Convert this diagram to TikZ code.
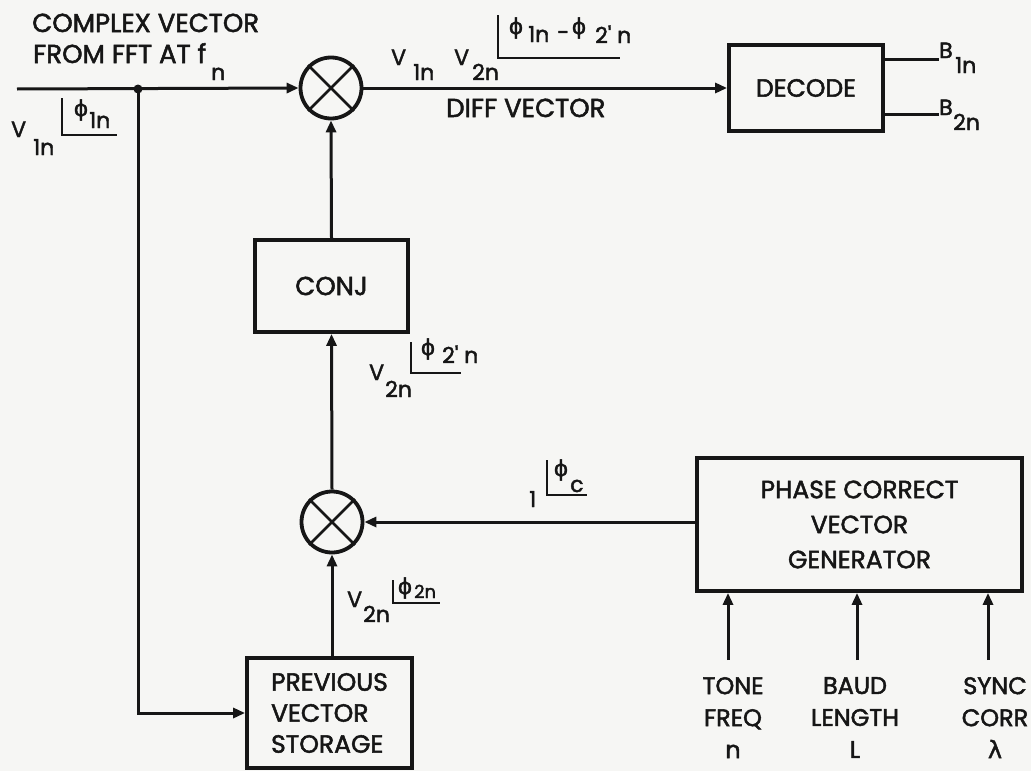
\documentclass[tikz,border=0pt]{standalone}
\usepackage{fontspec}
\newfontfamily\pop{Poppins}[FakeBold=2]
\newfontfamily\dvs{DejaVu Sans}[FakeBold=1.5]
\usetikzlibrary{arrows.meta}
\definecolor{ink}{RGB}{22,22,22}
\definecolor{paper}{RGB}{246,246,244}
\tikzset{
  box/.style={draw=ink,line width=3.8pt,minimum width=#1,inner sep=0pt},
  mult/.style={draw=ink,circle,line width=3.8pt,minimum size=61pt,inner sep=0pt},
  conn/.style={draw=ink,line width=3pt},
  arr/.style={conn,-{Triangle[length=12pt,width=10pt]}},
  big/.style={font=\pop\fontsize{25}{35}\selectfont,text=ink,inner sep=0pt},
  sml/.style={font=\pop\fontsize{22}{24}\selectfont,text=ink,inner sep=0pt,anchor=base west},
  phi/.style={font=\dvs\fontsize{22}{25}\selectfont,text=ink,inner sep=0pt},
  ang/.style={draw=ink,line width=2.6pt},
  lbl/.style={big,anchor=base west,font=\pop\fontsize{26}{30}\selectfont}
}
\begin{document}
\begin{tikzpicture}[x=1pt,y=-1pt]
\fill[paper] (0,0) rectangle (1031,771);
\useasboundingbox (0,0) rectangle (1031,771);

% blocks
\node[mult] (m1) at (331,88) {};
\node[mult] (m2) at (332,522) {};
\foreach \m in {m1,m2}{
  \draw[ink,line width=2.8pt] (\m.north east) -- (\m.south west);
  \draw[ink,line width=2.8pt] (\m.north west) -- (\m.south east);
}
\node[box=154pt,minimum height=86pt,big] (dec) at (806,88) {DECODE};
\node[box=153pt,minimum height=92pt,big,font=\pop\fontsize{26}{30}\selectfont] (conj) at (331.5,286) {CONJ};
\node[box=325pt,minimum height=133pt,big,align=center] (pc) at (859.5,524.5) {PHASE CORRECT\\VECTOR\\GENERATOR};
\node[box=165pt,minimum height=110pt,big,align=left,font=\pop\fontsize{25}{31}\selectfont] (pvs) at (329.5,713) {PREVIOUS\\VECTOR\\STORAGE};

% input line
\coordinate (in) at (17,89);
\coordinate (j) at (138,89);
\draw[arr] (in) -- (m1.west);
\fill[ink] (j) circle (4.5pt);
\draw[arr] (j) |- (pvs.west);
\draw[arr] (m1.east) -- (dec.west);
\draw[arr] (conj.north) -- (m1.south);
\draw[arr] (m2.north) -- (conj.south);
\draw[arr] (pc.west |- m2.east) -- (m2.east);
\draw[arr] (m2.south |- pvs.north) -- (m2.south);

% decode outputs
\coordinate (b1) at ([yshift=29pt]dec.east);
\coordinate (b2) at ([yshift=-26pt]dec.east);
\draw[conn] (b1) -- ++(54,0) coordinate (b1e);
\draw[conn] (b2) -- ++(54,0) coordinate (b2e);
\node[sml] (B1) at (939,58) {B};
\node[sml] (B1s) at (955,73) {1n};
\node[sml] (B2) at (939,115) {B};
\node[sml] (B2s) at (953,130) {2n};

% generator inputs
\coordinate (t1) at (728,660);
\coordinate (t2) at (857,660);
\coordinate (t3) at (988,660);
\foreach \t in {t1,t2,t3}{\draw[arr] (\t) -- (\t |- pc.south);}
\node[big,align=center,anchor=north,font=\pop\fontsize{24}{32}\selectfont] (tone) at (733,677) {TONE\\FREQ\\n};
\node[big,align=center,anchor=north,font=\pop\fontsize{24}{32}\selectfont] (baud) at (855,677) {BAUD\\LENGTH\\L};
\node[big,align=center,anchor=north,font=\pop\fontsize{24}{32}\selectfont] (sync) at (995,677) {SYNC\\CORR\\{\dvs λ}};

% title
\node[lbl] (t1a) at (32,32) {COMPLEX VECTOR};
\node[lbl] (t1b) at (33,63) {FROM FFT AT f};
\node[sml] (t1n) at (211,80) {n};
\node[lbl] (diff) at (446,117) {DIFF VECTOR};

% phasor V1n at left
\node[sml] (va) at (11,137) {V};
\node[sml] (vas) at (33,155) {1n};
\draw[ang] (62,98) |- (117,135);
\node[phi] (pa) at (81,110) {ϕ};
\node[sml] (pas) at (89,128) {1n};

% diff vector phasor
\node[sml] (vb) at (391,65) {V};
\node[sml] (vbs) at (413,80) {1n};
\node[sml] (vc) at (454,65) {V};
\node[sml] (vcs) at (472,80) {2n};
\draw[ang] (498,15) |- (620,58);
\node[phi] (pb) at (516,28) {ϕ};
\node[sml] (pbs) at (528,42) {1n};
\node[sml] (minus) at (557,40) {-};
\node[phi] (pc2) at (579,28) {ϕ};
\node[sml] (pcs) at (595,43) {2' n};

% conj output phasor
\node[sml] (vd) at (369,380) {V};
\node[sml] (vds) at (385,397) {2n};
\draw[ang] (411,342) |- (461,373);
\node[phi] (pd) at (428,349) {ϕ};
\node[sml] (pds) at (442,363) {2' n};

% phase correct phasor
\node[sml] (one) at (529,507) {1};
\draw[ang] (547,460) |- (587,495);
\node[phi] (pe) at (561,470) {ϕ};
\node[sml] (pes) at (570,492) {c};

% storage output phasor
\node[sml] (vf) at (347,607) {V};
\node[sml] (vfs) at (363,622) {2n};
\draw[ang] (393,580) |- (440,603);
\node[phi] (pf) at (405,588) {ϕ};
\node[sml,font=\pop\fontsize{18}{20}\selectfont] (pfs) at (414,598) {2n};
\end{tikzpicture}
\end{document}
